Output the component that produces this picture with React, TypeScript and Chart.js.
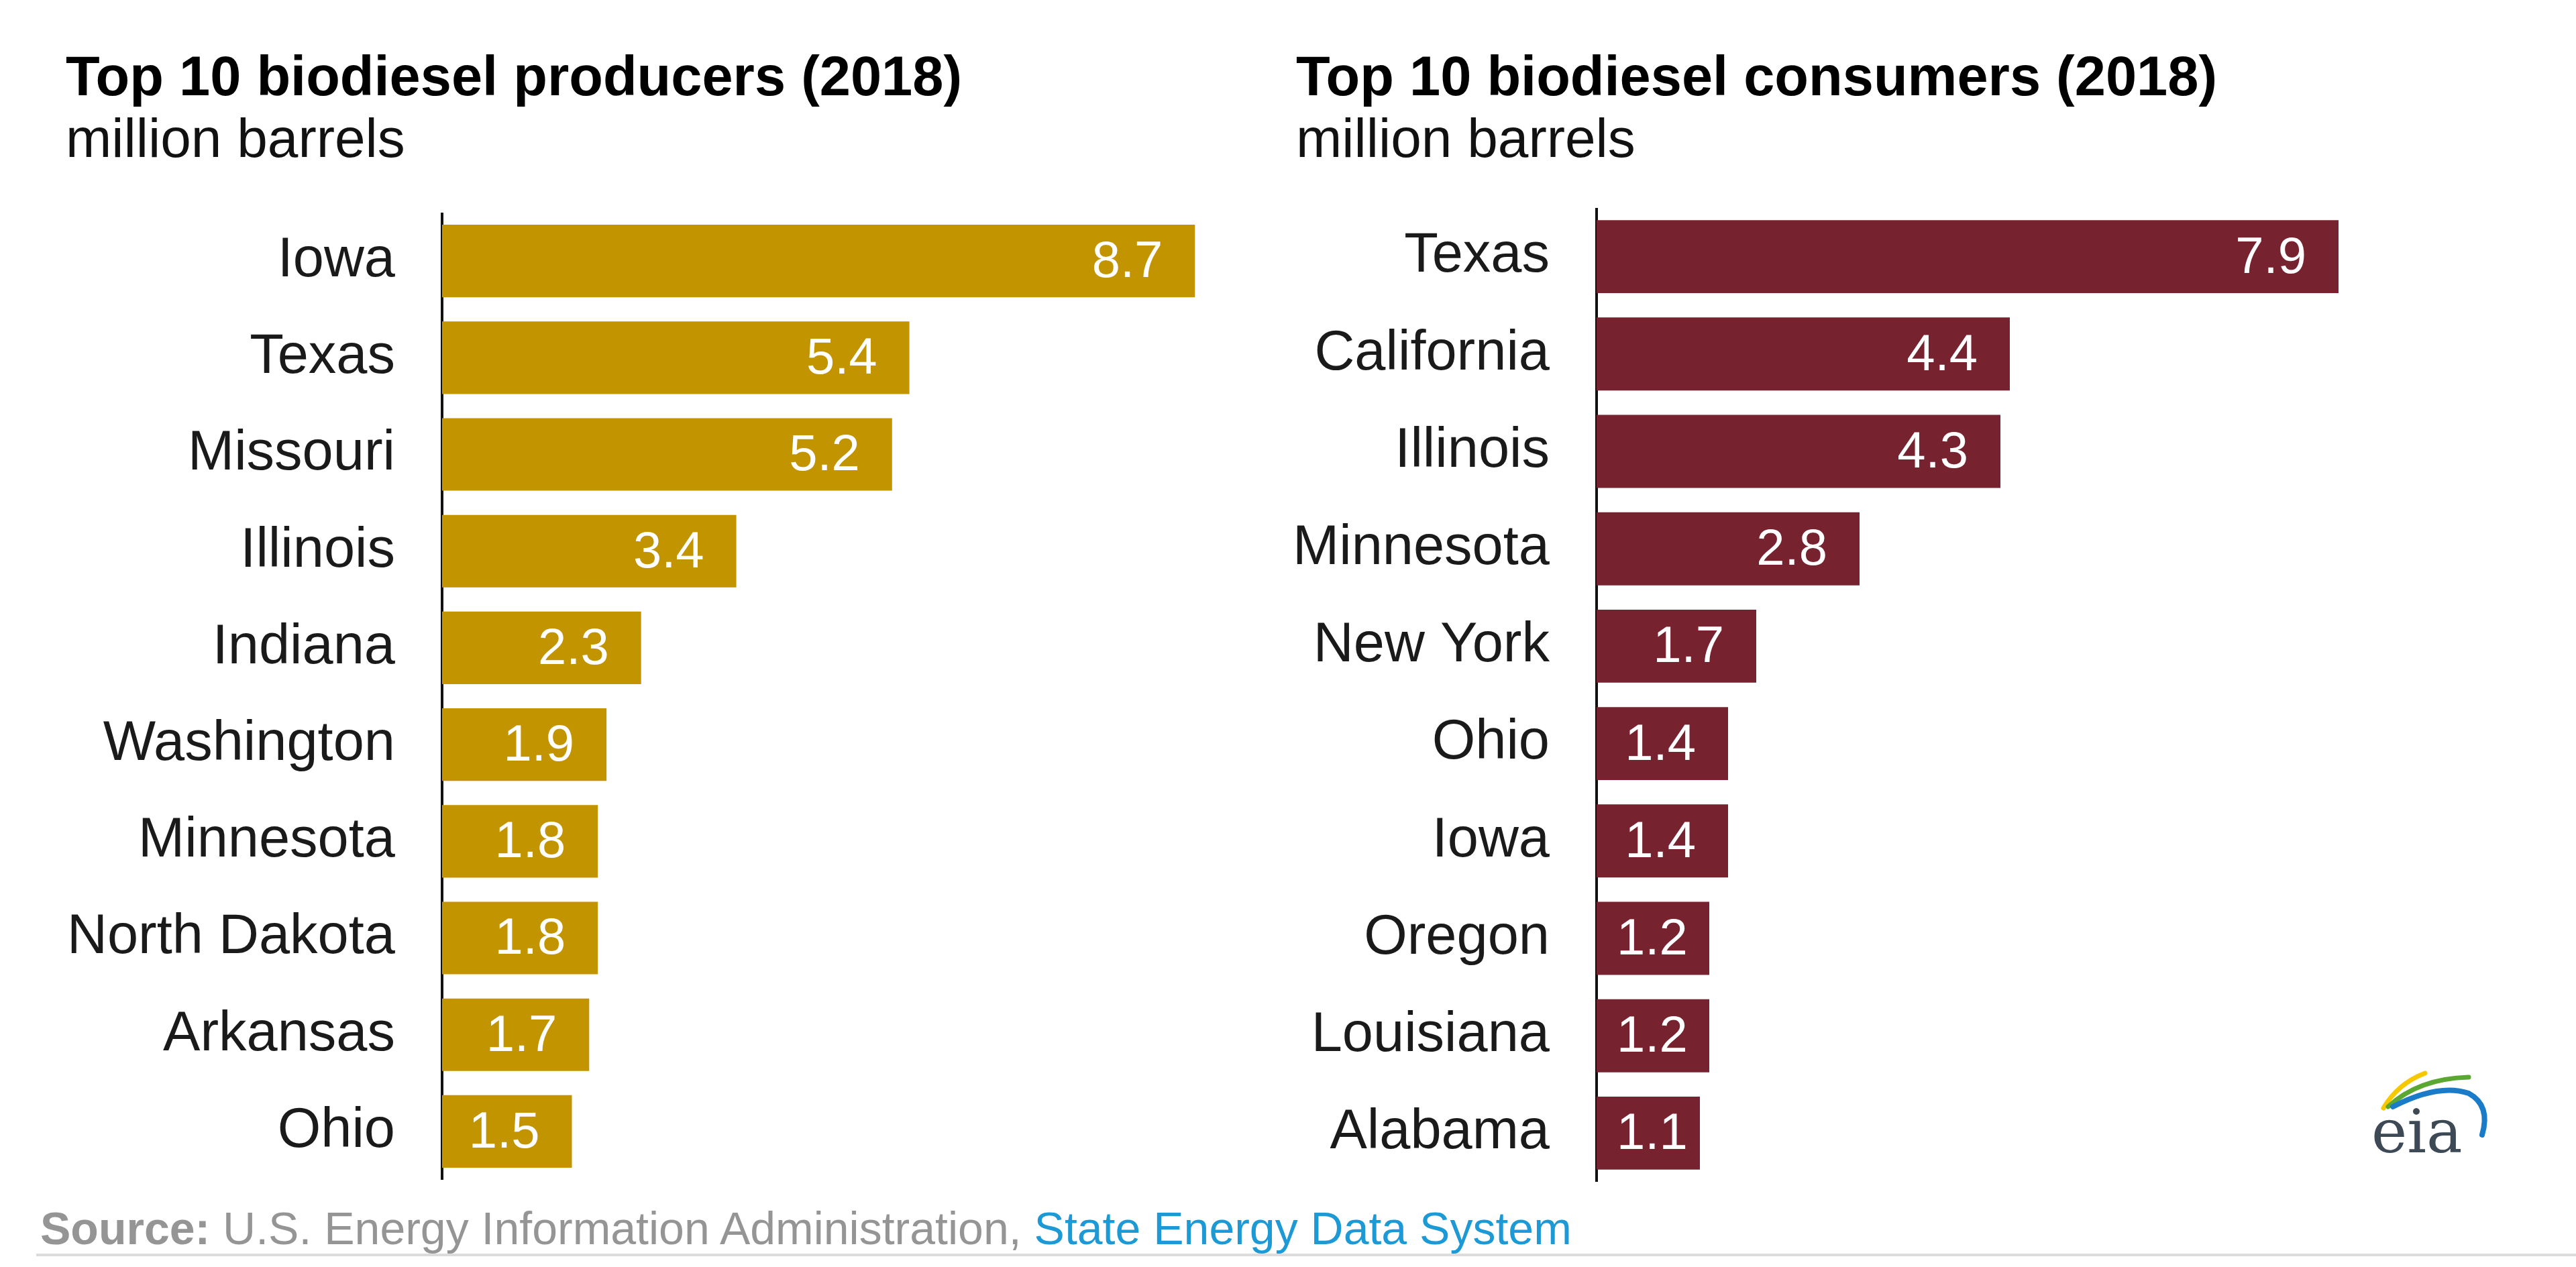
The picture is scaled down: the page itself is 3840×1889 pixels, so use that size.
import React, { useEffect, useRef } from "react";
import { Chart, registerables } from "chart.js";

Chart.register(...registerables);

const producerStates = ["Iowa", "Texas", "Missouri", "Illinois", "Indiana", "Washington", "Minnesota", "North Dakota", "Arkansas", "Ohio"];
const producerValues = [8.7, 5.4, 5.2, 3.4, 2.3, 1.9, 1.8, 1.8, 1.7, 1.5];

const consumerStates = ["Texas", "California", "Illinois", "Minnesota", "New York", "Ohio", "Iowa", "Oregon", "Louisiana", "Alabama"];
const consumerValues = [7.9, 4.4, 4.3, 2.8, 1.7, 1.4, 1.4, 1.2, 1.2, 1.1];

const producerTitle = "Top 10 biodiesel producers (2018)";
const consumerTitle = "Top 10 biodiesel consumers (2018)";
const unitLabel = "million barrels";

const FONT = "'Liberation Sans', Arial, sans-serif";

const valueLabelPlugin = {
  id: "valueLabels",
  afterDatasetsDraw(chart: any) {
    const ctx = chart.ctx;
    const meta = chart.getDatasetMeta(0);
    const data = chart.data.datasets[0].data as number[];
    ctx.save();
    ctx.fillStyle = "#ffffff";
    ctx.font = `76px ${FONT}`;
    ctx.textAlign = "right";
    ctx.textBaseline = "middle";
    meta.data.forEach((bar: any, i: number) => {
      const txt = data[i].toFixed(1);
      const w = ctx.measureText(txt).width;
      const x = Math.max(bar.x - 48, bar.base + w + 30);
      ctx.fillText(txt, x, bar.y + 3);
    });
    ctx.restore();
  },
};

function BarPanel(props: {
  labels: string[];
  values: number[];
  color: string;
  axisWidth: number;
  max: number;
  style: React.CSSProperties;
  width: number;
  height: number;
}) {
  const ref = useRef<HTMLCanvasElement | null>(null);
  useEffect(() => {
    if (!ref.current) return;
    const chart = new Chart(ref.current, {
      type: "bar",
      data: {
        labels: props.labels,
        datasets: [
          {
            data: props.values,
            backgroundColor: props.color,
            barPercentage: 0.75,
            categoryPercentage: 1,
          },
        ],
      },
      options: {
        indexAxis: "y",
        animation: false,
        responsive: false,
        maintainAspectRatio: false,
        layout: { padding: 0 },
        plugins: {
          legend: { display: false },
          tooltip: { enabled: false },
          title: { display: false },
        },
        scales: {
          x: { display: false, min: 0, max: props.max, grid: { display: false } },
          y: {
            afterFit: (s: any) => {
              s.width = props.axisWidth;
              s.paddingTop = 0;
              s.paddingBottom = 0;
            },
            grid: { display: false, drawTicks: false },
            border: { display: true, color: "#111111", width: 4 },
            ticks: {
              color: "#1a1a1a",
              padding: 70,
              font: { family: FONT, size: 83 },
            },
          },
        },
      },
      plugins: [valueLabelPlugin],
    } as any);
    return () => chart.destroy();
  }, []);
  return (
    <canvas
      ref={ref}
      width={props.width}
      height={props.height}
      style={{ position: "absolute", width: props.width, height: props.height, ...props.style }}
    />
  );
}

function Titles(props: { left: number; title: string }) {
  return (
    <>
      <div
        style={{
          position: "absolute",
          left: props.left,
          top: 72,
          fontFamily: FONT,
          fontWeight: "bold",
          fontSize: 83,
          lineHeight: 1,
          color: "#000",
          whiteSpace: "nowrap",
        }}
      >
        {props.title}
      </div>
      <div
        style={{
          position: "absolute",
          left: props.left,
          top: 165,
          fontFamily: FONT,
          fontSize: 82,
          lineHeight: 1,
          color: "#111",
          whiteSpace: "nowrap",
        }}
      >
        {unitLabel}
      </div>
    </>
  );
}

function EiaLogo() {
  return (
    <svg
      width={240}
      height={160}
      viewBox="0 0 240 160"
      style={{ position: "absolute", left: 3515, top: 1570 }}
    >
      <path d="M 38 82 Q 60 45 100 30" stroke="#f5c800" strokeWidth={7} fill="none" strokeLinecap="round" />
      <path d="M 45 80 Q 90 38 165 36" stroke="#5aa832" strokeWidth={7} fill="none" strokeLinecap="round" />
      <path d="M 52 80 Q 120 45 165 60 Q 198 78 185 122" stroke="#1a7cc8" strokeWidth={8} fill="none" strokeLinecap="round" />
      <text
        x={20}
        y={148}
        fontFamily="'DejaVu Serif', 'Liberation Serif', serif"
        fontSize={90}
        fill="#3d4a56"
      >
        eia
      </text>
    </svg>
  );
}

export default function App() {
  useEffect(() => {
    document.body.style.margin = "0";
  }, []);
  return (
    <div style={{ position: "absolute", left: 0, top: 0, width: 3840, height: 1889, background: "#fff", overflow: "hidden" }}>
      <Titles left={98} title={producerTitle} />
      <Titles left={1932} title={consumerTitle} />
      <BarPanel
        labels={producerStates}
        values={producerValues}
        color="#C29400"
        axisWidth={659}
        max={9}
        width={1820}
        height={1442}
        style={{ left: 0, top: 317 }}
      />
      <BarPanel
        labels={consumerStates}
        values={consumerValues}
        color="#76232F"
        axisWidth={480}
        max={9}
        width={1740}
        height={1452}
        style={{ left: 1900, top: 310 }}
      />
      <EiaLogo />
      <div
        style={{
          position: "absolute",
          left: 60,
          top: 1797,
          fontFamily: FONT,
          fontSize: 68,
          lineHeight: 1,
          color: "#959595",
          whiteSpace: "nowrap",
        }}
      >
        <span style={{ fontWeight: "bold" }}>Source:</span> U.S. Energy Information Administration,{" "}
        <span style={{ color: "#1d9ad6" }}>State Energy Data System</span>
      </div>
      <div style={{ position: "absolute", left: 54, top: 1869, width: 3786, height: 4, background: "#dcdcdc" }} />
    </div>
  );
}
